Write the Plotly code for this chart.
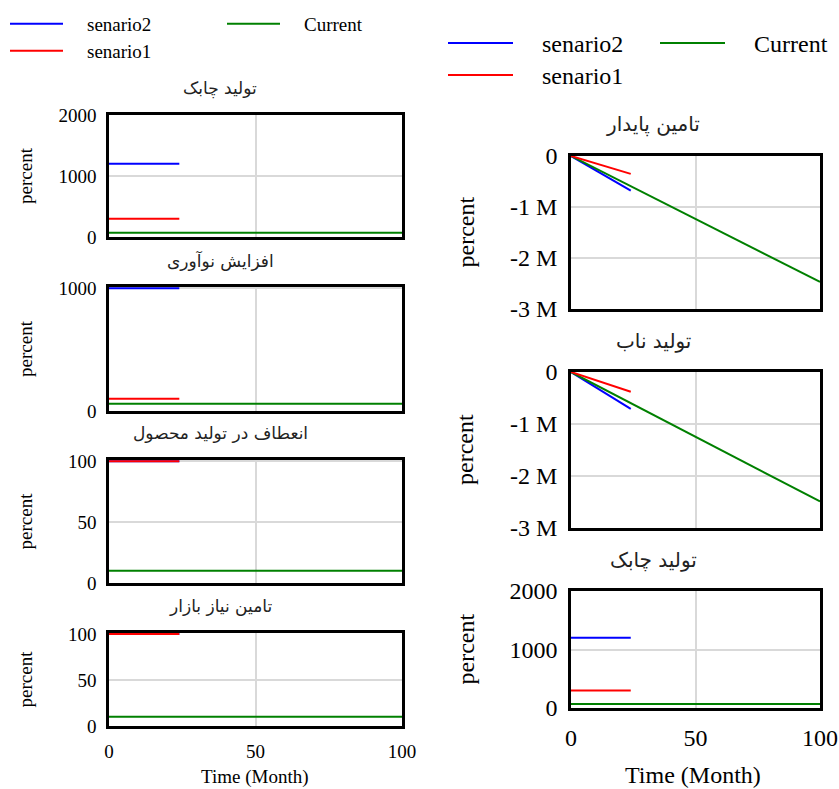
import plotly.graph_objects as go

W, H = 839, 789

# ---------------- data ----------------
series_names = ["senario2", "Current", "senario1"]
series_colors = ["#0000ff", "#008000", "#ff0000"]

t_scen = [0, 24]      # scenario runs (months)
t_curr = [0, 100]     # current run (months)

agile_s2 = [1200, 1200]
agile_s1 = [300, 300]
agile_cur = [70, 70]

innov_s2 = [1000, 1000]
innov_s1 = [100, 100]
innov_cur = [60, 60]

flex_s2 = [100, 100]
flex_s1 = [100, 100]
flex_cur = [10, 10]

market_s2 = [100, 100]
market_s1 = [100, 100]
market_cur = [10, 10]

sust_s2 = [0, -680000]
sust_s1 = [0, -350000]
sust_cur = [0, -2470000]

lean_s2 = [0, -710000]
lean_s1 = [0, -380000]
lean_cur = [0, -2490000]

title_agile = "تولید چابک"
title_innov = "افزایش نوآوری"
title_flex = "انعطاف در تولید محصول"
title_market = "تامین نیاز بازار"
title_sust = "تامین پایدار"
title_lean = "تولید ناب"

y_label = "percent"
x_label = "Time (Month)"

x_ticks = [0, 50, 100]
ticks_2000 = [0, 1000, 2000]
ticks_1000 = [0, 1000]
ticks_100 = [0, 50, 100]
ticks_M_vals = [0, -1000000, -2000000, -3000000]
ticks_M_text = ["0", "-1 M", "-2 M", "-3 M"]

# ---------------- layout spec (pixel boxes) ----------------
SERIF = "Liberation Serif"
ARAB = "DejaVu Sans"

panels = [
    dict(title=title_agile, data=(agile_s2, agile_s1, agile_cur), yr=[0, 2000], tv=ticks_2000, tt=None,
         box=(109, 402, 115, 237), side="L", xt=False, leg=("legend", "legend2")),
    dict(title=title_innov, data=(innov_s2, innov_s1, innov_cur), yr=[0, 1010], tv=ticks_1000, tt=None,
         box=(109, 402, 287, 411), side="L", xt=False, leg=None),
    dict(title=title_flex, data=(flex_s2, flex_s1, flex_cur), yr=[0, 101], tv=ticks_100, tt=None,
         box=(109, 402, 460, 583), side="L", xt=False, leg=None),
    dict(title=title_market, data=(market_s2, market_s1, market_cur), yr=[0, 101], tv=ticks_100, tt=None,
         box=(109, 402, 633, 726), side="L", xt=True, leg=None),
    dict(title=title_sust, data=(sust_s2, sust_s1, sust_cur), yr=[-3000000, 0], tv=ticks_M_vals, tt=ticks_M_text,
         box=(571, 820, 156, 309), side="R", xt=False, leg=("legend3", "legend4")),
    dict(title=title_lean, data=(lean_s2, lean_s1, lean_cur), yr=[-3000000, 0], tv=ticks_M_vals, tt=ticks_M_text,
         box=(571, 820, 372, 528), side="R", xt=False, leg=None),
    dict(title=title_agile, data=(agile_s2, agile_s1, agile_cur), yr=[0, 2000], tv=ticks_2000, tt=None,
         box=(571, 820, 591, 708), side="R", xt=True, leg=None),
]

fig = go.Figure()
layout = {}
annotations = []

for i, p in enumerate(panels):
    n = "" if i == 0 else str(i + 1)
    xa, ya = "x" + n, "y" + n
    x0, x1, y0, y1 = p["box"]
    fs = 19 if p["side"] == "L" else 24
    s2, s1, cur = p["data"]
    traces = [(0, t_scen, s2), (1, t_curr, cur), (2, t_scen, s1)]
    for k, tx, ty in traces:
        show = p["leg"] is not None
        legid = None
        if show:
            legid = p["leg"][0] if k in (0, 1) else p["leg"][1]
        fig.add_trace(go.Scatter(
            x=tx, y=ty, mode="lines",
            name="\u2003" + series_names[k],
            line=dict(color=series_colors[k], width=2),
            xaxis=xa, yaxis=ya,
            showlegend=show,
            legend=legid if show else None,
            hoverinfo="skip",
        ))
    axcommon = dict(showline=True, linecolor="black", linewidth=2.5, mirror=True,
                    showgrid=True, gridcolor="#d9d9d9", gridwidth=1.5, zeroline=False,
                    layer="below traces",
                    ticks="", tickfont=dict(family=SERIF, size=fs, color="black"))
    layout["xaxis" + n] = dict(axcommon, domain=[x0 / W, x1 / W], range=[0, 100], tickvals=x_ticks,
                               showticklabels=p["xt"], anchor=ya, ticklabelstandoff=6)
    yd = dict(axcommon, domain=[1 - y1 / H, 1 - y0 / H], range=p["yr"], tickvals=p["tv"],
              anchor=xa, ticklabelstandoff=6)
    if p["tt"] is not None:
        yd["ticktext"] = p["tt"]
    layout["yaxis" + n] = yd

    # subplot title
    if p["side"] == "L":
        tx_c, ty_c, tfs = 220, y0 - 27, 17
        lx = 25
    else:
        tx_c, ty_c, tfs = 653, y0 - 31, 20
        lx = 465
    annotations.append(dict(text=p["title"], x=tx_c / W, y=1 - ty_c / H, xref="paper", yref="paper",
                            showarrow=False, xanchor="center", yanchor="middle",
                            font=dict(family=ARAB, size=tfs, color="#222222")))
    annotations.append(dict(text=y_label, x=lx / W, y=1 - ((y0 + y1) / 2) / H, xref="paper", yref="paper",
                            showarrow=False, xanchor="center", yanchor="middle", textangle=-90,
                            font=dict(family=SERIF, size=fs, color="black")))

annotations.append(dict(text=x_label, x=255 / W, y=1 - 777 / H, xref="paper", yref="paper", showarrow=False,
                        xanchor="center", yanchor="middle", font=dict(family=SERIF, size=19, color="black")))
annotations.append(dict(text=x_label, x=693 / W, y=1 - 775 / H, xref="paper", yref="paper", showarrow=False,
                        xanchor="center", yanchor="middle", font=dict(family=SERIF, size=24, color="black")))


def leg(xpx, ypx, fs, iw, ew):
    return dict(x=xpx / W, y=1 - ypx / H, xanchor="left", yanchor="top", orientation="h",
                itemwidth=iw, entrywidth=ew, entrywidthmode="pixels",
                font=dict(family=SERIF, size=fs, color="black"),
                bgcolor="rgba(0,0,0,0)", borderwidth=0)


layout["legend"] = leg(5, 5, 19, 53, 149)
layout["legend2"] = leg(5, 32, 19, 53, 149)
layout["legend3"] = leg(443, 21, 24, 65, 132)
layout["legend4"] = leg(443, 53, 24, 65, 132)

fig.update_layout(
    width=W, height=H,
    margin=dict(l=0, r=0, t=0, b=0, autoexpand=False),
    paper_bgcolor="white", plot_bgcolor="white",
    annotations=annotations,
    **layout,
)

fig.write_html("out.html", config={"displayModeBar": False},
               post_script="document.body.style.margin='0';document.body.style.overflow='hidden';")
